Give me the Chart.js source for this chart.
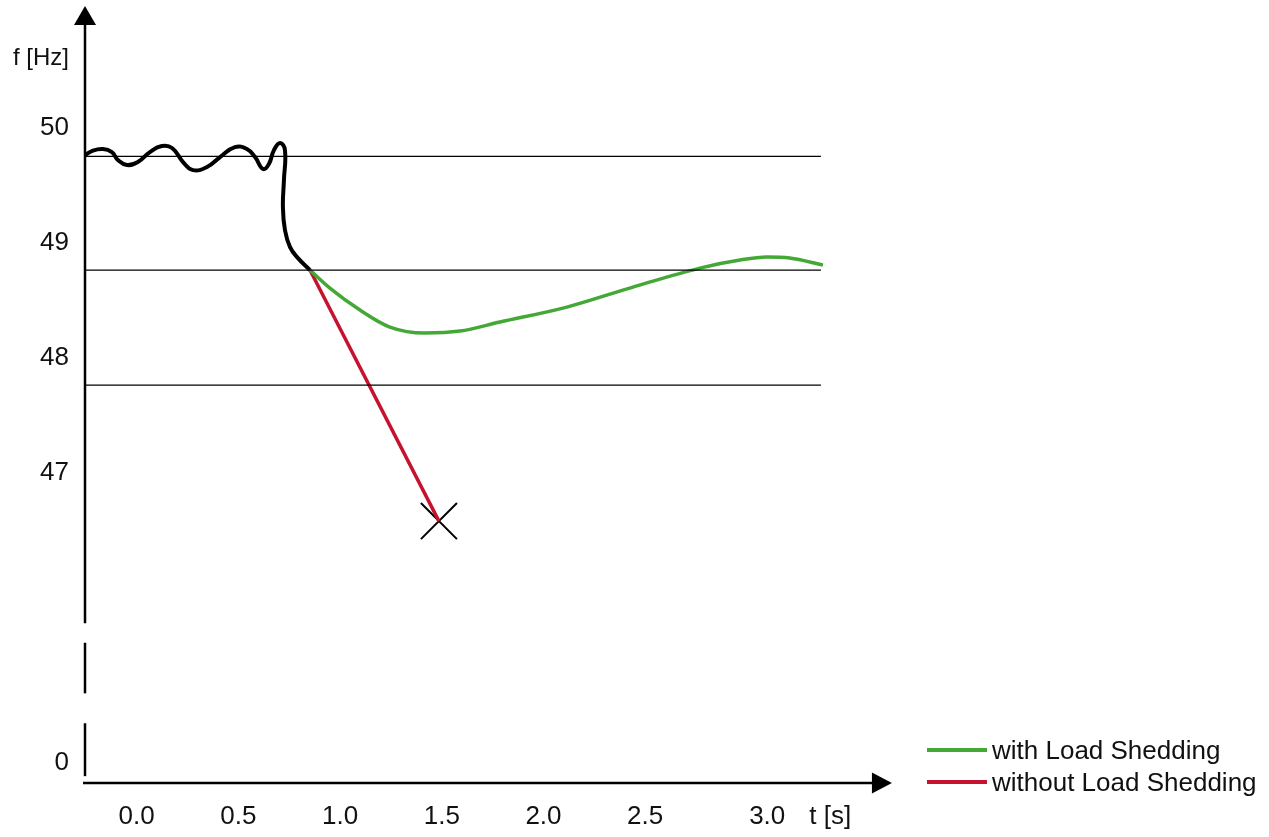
<!DOCTYPE html>
<html>
<head>
<meta charset="utf-8">
<title>Frequency with and without load shedding</title>
<script src="https://cdn.jsdelivr.net/npm/chart.js@4.4.1/dist/chart.umd.min.js"></script>
<style>
  html, body { margin: 0; padding: 0; background: #fff; }
  #wrap { position: relative; width: 1269px; height: 837px; }
  #legend {
    position: absolute; left: 927px; top: 734px;
    font-family: 'Liberation Sans', Arial, sans-serif; font-size: 26px; color: #111;
  }
  #legend .item { display: flex; align-items: center; height: 32px; white-space: nowrap; }
  #legend .swatch { width: 60px; height: 3.5px; margin-right: 5px; }
</style>
</head>
<body>
<div id="wrap">
  <canvas id="chart"></canvas>
  <div id="legend"></div>
</div>
<script>
// values: time in s, frequency in Hz
const beforeTime = [-0.254, -0.215, -0.166, -0.122, -0.092, -0.048, 0.006, 0.065, 0.124, 0.174,
  0.228, 0.277, 0.346, 0.410, 0.483, 0.542, 0.582, 0.621, 0.650, 0.675, 0.705, 0.729,
  0.724, 0.719, 0.729, 0.754, 0.793, 0.852];
const beforeFreq = [49.761, 49.800, 49.813, 49.787, 49.717, 49.674, 49.700, 49.787, 49.839, 49.822,
  49.700, 49.630, 49.657, 49.743, 49.830, 49.813, 49.743, 49.639, 49.683, 49.804, 49.865, 49.804,
  49.543, 49.309, 49.109, 48.961, 48.865, 48.761];

const withTime = [0.852, 0.950, 1.098, 1.245, 1.417, 1.589, 1.786, 2.115, 2.440, 2.769, 2.966, 3.098, 3.211, 3.374];
const withFreq = [48.761, 48.604, 48.413, 48.265, 48.213, 48.230, 48.309, 48.439, 48.613, 48.778, 48.848, 48.874, 48.865, 48.804];

const withoutTime = [0.852, 1.486];
const withoutFreq = [48.761, 46.578];

// where the system collapses (the X)
const collapseTime = [1.486];
const collapseFreq = [46.578];

// horizontal reference levels
const levelFreq = [49.75, 48.76, 47.76];
const levelSpan = [-0.254, 3.364];

const xTickValues = [0, 0.5, 1, 1.5, 2, 2.5, 3.1, 3.41];
const xTickLabels = ["0.0", "0.5", "1.0", "1.5", "2.0", "2.5", "3.0", "t [s]"];
const yTickValues = [44.48, 47, 48, 49, 50, 50.6];
const yTickLabels = ["0", "47", "48", "49", "50", "f [Hz]"];

// broken frequency axis (drawn pieces), time axis level and arrow ends
const yAxisPieces = [[51.06, 45.69], [45.52, 45.08], [44.82, 44.36]];
const xAxisAt = 44.30;
const xArrowEnd = 3.713;
const yArrowEnd = 51.057;

const pts = (xs, ys) => xs.map((x, i) => ({ x, y: ys[i] }));

Chart.defaults.font.family = "'Liberation Sans', Arial, sans-serif";
Chart.defaults.font.size = 26;
Chart.defaults.color = "#111";

// axes with arrow heads, like the hand sketch
const sketchAxes = {
  id: "sketchAxes",
  beforeDatasetsDraw(chart) {
    const { ctx, scales: { x, y } } = chart;
    const ax = x.getPixelForValue(x.min);
    const ay = y.getPixelForValue(xAxisAt);
    const top = y.getPixelForValue(yArrowEnd);
    const tip = x.getPixelForValue(xArrowEnd);

    ctx.save();
    ctx.strokeStyle = "#000";
    ctx.fillStyle = "#000";
    ctx.lineWidth = 2.5;

    yAxisPieces.forEach(([a, b], i) => {
      ctx.beginPath();
      ctx.moveTo(ax, i === 0 ? top + 18 : y.getPixelForValue(a));
      ctx.lineTo(ax, y.getPixelForValue(b));
      ctx.stroke();
    });
    ctx.beginPath();
    ctx.moveTo(ax, top);
    ctx.lineTo(ax - 11, top + 19);
    ctx.lineTo(ax + 11, top + 19);
    ctx.closePath();
    ctx.fill();

    ctx.beginPath();
    ctx.moveTo(ax - 2, ay);
    ctx.lineTo(tip - 18, ay);
    ctx.stroke();
    ctx.beginPath();
    ctx.moveTo(tip, ay);
    ctx.lineTo(tip - 20, ay - 10.5);
    ctx.lineTo(tip - 20, ay + 10.5);
    ctx.closePath();
    ctx.fill();
    ctx.restore();
  },
};

const levelSets = levelFreq.map((f) => ({
  label: "",
  data: pts(levelSpan, [f, f]),
  borderColor: "#000",
  borderWidth: 1.3,
  pointRadius: 0,
}));

const chart = new Chart(document.getElementById("chart"), {
  type: "scatter",
  data: {
    datasets: [
      ...levelSets,
      {
        label: "with Load Shedding",
        data: pts(withTime, withFreq),
        borderColor: "#44a836",
        borderWidth: 3.5,
        cubicInterpolationMode: "monotone",
        pointRadius: 0,
      },
      {
        label: "without Load Shedding",
        data: pts(withoutTime, withoutFreq),
        borderColor: "#c6122f",
        borderWidth: 3.5,
        pointRadius: 0,
      },
      {
        label: "",
        data: pts(beforeTime, beforeFreq),
        borderColor: "#000",
        borderWidth: 4,
        tension: 0.45,
        pointRadius: 0,
      },
      {
        label: "",
        data: pts(collapseTime, collapseFreq),
        showLine: false,
        pointStyle: "crossRot",
        pointRadius: 25.5,
        borderColor: "#000",
        borderWidth: 2,
      },
    ],
  },
  options: {
    responsive: true,
    maintainAspectRatio: false,
    animation: false,
    events: [],
    showLine: true,
    layout: { autoPadding: false, padding: { top: 6, right: 348, bottom: 0, left: 0 } },
    scales: {
      x: {
        type: "linear",
        min: -0.254,
        max: 3.856,
        grid: { display: false, drawTicks: false },
        border: { display: false },
        afterFit: (scale) => {
          scale.height = 36;
          scale.paddingLeft = 0;
          scale.paddingRight = 0;
        },
        afterBuildTicks: (scale) => { scale.ticks = xTickValues.map((v) => ({ value: v })); },
        ticks: {
          autoSkip: false,
          maxRotation: 0,
          padding: 0,
          callback: (v, i) => xTickLabels[i],
        },
      },
      y: {
        type: "linear",
        min: 44.144,
        max: 51.057,
        grid: { display: false, drawTicks: false },
        border: { display: false },
        afterFit: (scale) => {
          scale.width = 85;
          scale.paddingTop = 0;
          scale.paddingBottom = 0;
        },
        afterBuildTicks: (scale) => { scale.ticks = yTickValues.map((v) => ({ value: v })); },
        ticks: {
          autoSkip: false,
          padding: 16,
          font: (ctx) => ({ size: yTickLabels[ctx.index] === "f [Hz]" ? 24 : 26 }),
          callback: (v, i) => yTickLabels[i],
        },
      },
    },
    plugins: {
      tooltip: { enabled: false },
      legend: { display: false },
    },
  },
  plugins: [sketchAxes],
});

// html legend, only for the two named series
const legendEl = document.getElementById("legend");
chart.data.datasets.filter((d) => d.label).forEach((d) => {
  const item = document.createElement("div");
  item.className = "item";
  const swatch = document.createElement("span");
  swatch.className = "swatch";
  swatch.style.background = d.borderColor;
  const text = document.createElement("span");
  text.textContent = d.label;
  item.append(swatch, text);
  legendEl.appendChild(item);
});
</script>
</body>
</html>
